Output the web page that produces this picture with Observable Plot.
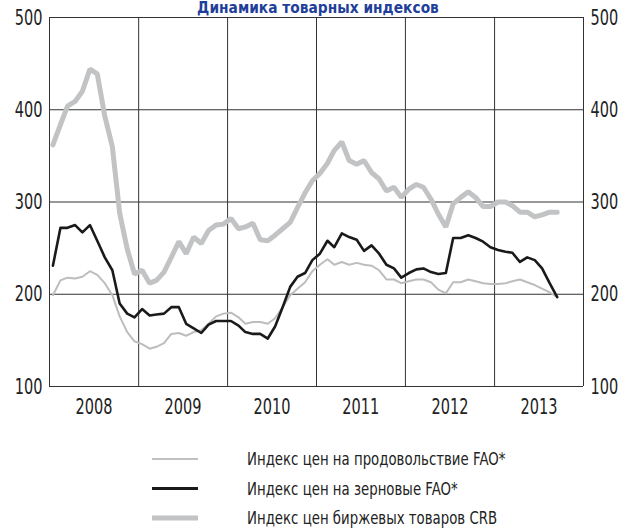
<!DOCTYPE html>
<html>
<head>
<meta charset="utf-8">
<script src="https://cdn.jsdelivr.net/npm/d3@7"></script>
<script src="https://cdn.jsdelivr.net/npm/@observablehq/plot@0.6"></script>
<style>
  html, body { margin: 0; padding: 0; background: #fff; }
  #wrap { position: relative; width: 628px; height: 530px; overflow: hidden;
    font-family: "DejaVu Sans", "Liberation Sans", sans-serif; }
  #chart { position: absolute; left: 0; top: 0; }
  #title { position: absolute; left: 0; top: 0; }
  .leg { position: absolute; left: 0; top: 440px; }
</style>
</head>
<body>
<div id="wrap">
  <div id="chart"></div>
  <svg id="title" width="628" height="17">
    <text x="318" y="13" text-anchor="middle" fill="#1f3f9a" font-weight="bold" font-size="15"
      font-family="DejaVu Sans, Liberation Sans, sans-serif">Динамика товарных индексов</text>
  </svg>
  <div id="legend"></div>
</div>
<script>
// Monthly values, Jan 2008 – Sep 2013
const startYear = 2008;
const foodFAO = [
  199, 215, 218, 217, 219, 225, 221, 212, 199, 176, 159, 149,
  146, 141, 143, 147, 157, 158, 155, 159, 161, 168, 176, 179,
  180, 175, 168, 170, 170, 168, 174, 186, 199, 206, 213, 225,
  232, 238, 232, 235, 232, 234, 232, 231, 226, 216, 216, 212,
  214, 216, 216, 213, 205, 201, 213, 213, 216, 214, 212, 211,
  211, 212, 214, 216, 213, 210, 206, 202, 197
];
const cerealsFAO = [
  231, 272, 272, 275, 267, 275, 258, 240, 226, 190, 179, 175,
  184, 177, 178, 179, 186, 186, 168, 163, 158, 167, 171, 171,
  171, 166, 159, 157, 157, 152, 165, 186, 208, 219, 223, 237,
  244, 258, 251, 266, 262, 259, 247, 253, 244, 232, 228, 218,
  223, 227, 228, 224, 222, 223, 261, 261, 264, 261, 257, 251,
  248, 246, 245, 235, 240, 237, 228, 212, 197
];
const crbIndex = [
  362, 384, 404, 409, 420, 444, 439, 393, 360, 288, 249, 222,
  226, 212, 215, 224, 240, 257, 244, 262, 255, 269, 275, 276,
  282, 271, 273, 277, 259, 258, 264, 271, 278, 294, 310, 323,
  331, 342, 356, 365, 345, 341, 345, 332, 325, 312, 316, 305,
  314, 319, 316, 303, 287, 273, 298, 305, 311, 305, 295, 295,
  300, 300, 296, 289, 289, 284, 286, 289, 289
];
const yearLabels = ["2008", "2009", "2010", "2011", "2012", "2013"];
const yTicks = [100, 200, 300, 400, 500];
const seriesNames = [
  "Индекс цен на продовольствие FAO*",
  "Индекс цен на зерновые FAO*",
  "Индекс цен биржевых товаров CRB"
];

const monthDate = i => new Date(Date.UTC(startYear, i, 15));
const rows = crbIndex.map((v, i) => ({
  date: monthDate(i), food: foodFAO[i], cereals: cerealsFAO[i], crb: v
}));
const yearBounds = d3.range(startYear, startYear + yearLabels.length + 1).map(y => new Date(Date.UTC(y, 0, 1)));
const yearMids = yearLabels.map(y => new Date(Date.UTC(+y, 6, 2)));

const FONT = '"DejaVu Sans", "Liberation Sans", sans-serif';

const chart = Plot.plot({
  width: 628,
  height: 430,
  marginLeft: 49,
  marginRight: 45,
  marginTop: 17,
  marginBottom: 44,
  style: { fontFamily: FONT, color: "#222", background: "transparent", overflow: "visible" },
  x: { type: "utc", domain: [yearBounds[0], yearBounds[yearBounds.length - 1]], axis: null },
  y: { domain: [100, 500], axis: null },
  marks: [
    Plot.gridY(yTicks, { stroke: "#333", strokeOpacity: 1, strokeWidth: 1 }),
    Plot.gridX(yearBounds, { stroke: "#333", strokeOpacity: 1, strokeWidth: 1 }),
    Plot.axisY(yTicks, { anchor: "left", tickSize: 0, tickPadding: 7, fontSize: 22, fill: "#222" }),
    Plot.axisY(yTicks, { anchor: "right", tickSize: 0, tickPadding: 7, fontSize: 22, fill: "#222" }),
    Plot.axisX(yearMids, { anchor: "bottom", tickSize: 0, tickPadding: 12, fontSize: 22, fill: "#222",
      tickFormat: (d, i) => yearLabels[i] }),
    Plot.lineY(rows, { x: "date", y: "crb", stroke: "#c2c3c5", strokeWidth: 5, strokeLinejoin: "miter" }),
    Plot.lineY(rows, { x: "date", y: "food", stroke: "#bdbdbd", strokeWidth: 2 }),
    Plot.lineY(rows, { x: "date", y: "cereals", stroke: "#1a1a1a", strokeWidth: 2.6 })
  ]
});
document.getElementById("chart").appendChild(chart);

// Condense text horizontally around its anchor point (narrow typeface look)
function condense(root, factor) {
  root.querySelectorAll("text").forEach(t => {
    const b = t.getBBox();
    if (!b.width) return;
    const anchor = getComputedStyle(t).textAnchor || t.getAttribute("text-anchor") || "start";
    const ax = anchor === "end" ? b.x + b.width : anchor === "middle" ? b.x + b.width / 2 : b.x;
    const old = t.getAttribute("transform") || "";
    t.setAttribute("transform",
      `${old} translate(${ax.toFixed(2)},0) scale(${factor},1) translate(${(-ax).toFixed(2)},0)`.trim());
  });
}
condense(chart, 0.66);
condense(document.getElementById("title"), 0.92);

// Legend
const legendStyles = [
  { stroke: "#c0c0c0", width: 2 },
  { stroke: "#1a1a1a", width: 3 },
  { stroke: "#c2c3c5", width: 5 }
];
const leg = d3.select("#legend").append("svg")
  .attr("class", "leg").attr("width", 628).attr("height", 90);
seriesNames.forEach((name, i) => {
  const y = 19 + i * 29.5;
  leg.append("line").attr("x1", 152).attr("x2", 198).attr("y1", y).attr("y2", y)
    .attr("stroke", legendStyles[i].stroke).attr("stroke-width", legendStyles[i].width);
  leg.append("text").attr("x", 247).attr("y", y).attr("dy", "0.35em")
    .attr("font-family", FONT).attr("font-size", 18).attr("fill", "#222").text(name);
});
condense(leg.node(), 0.74);
</script>
</body>
</html>
